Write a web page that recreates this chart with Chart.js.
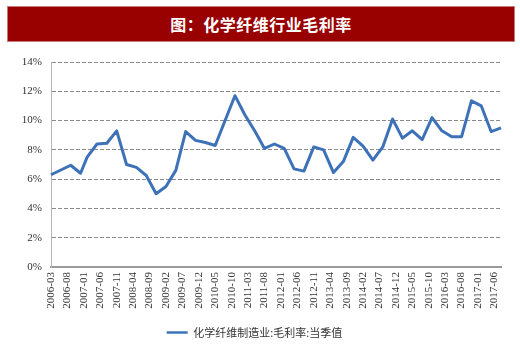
<!DOCTYPE html>
<html>
<head>
<meta charset="utf-8">
<script src="https://cdn.jsdelivr.net/npm/chart.js@4.4.1/dist/chart.umd.min.js"></script>
<style>
  html, body { margin: 0; padding: 0; background: #fff; }
  #wrap { position: relative; width: 520px; height: 348px; }
  #banner {
    position: absolute; left: 7px; top: 6px; width: 506px; height: 34px;
    background: #990000; border: 1px solid #c77a7a;
    color: #fff; font: bold 16px "Noto Sans CJK SC", sans-serif;
    text-align: center; line-height: 34px; letter-spacing: 0.5px;
  }
  canvas { position: absolute; left: 0; top: 0; }
</style>
</head>
<body>
<div id="wrap">
  <canvas id="c" width="520" height="348"></canvas>
  <div id="banner">图：化学纤维行业毛利率</div>
</div>
<script>
const seriesName = '化学纤维制造业:毛利率:当季值';
const pointDates = ['2006-03','2006-09','2006-12','2007-02','2007-05','2007-08','2007-11','2008-02','2008-05','2008-08','2008-11','2009-02','2009-05','2009-08','2009-11','2010-02','2010-05','2010-08','2010-11','2011-02','2011-05','2011-08','2011-11','2012-02','2012-05','2012-08','2012-11','2013-02','2013-05','2013-08','2013-11','2014-02','2014-05','2014-08','2014-11','2015-02','2015-05','2015-08','2015-11','2016-02','2016-05','2016-08','2016-11','2017-02','2017-05','2017-08'];
const marginValues = [6.3,6.95,6.4,7.5,8.4,8.45,9.3,7.0,6.8,6.25,5.0,5.5,6.6,9.25,8.65,8.5,8.3,10.0,11.7,10.4,9.3,8.1,8.4,8.1,6.7,6.55,8.2,8.0,6.45,7.2,8.85,8.25,7.3,8.2,10.1,8.8,9.3,8.7,10.2,9.3,8.9,8.9,11.35,11.0,9.25,9.5];
const tickLabels = ['2006-03','2006-08','2007-01','2007-06','2007-11','2008-04','2008-09','2009-02','2009-07','2009-12','2010-05','2010-10','2011-03','2011-08','2012-01','2012-06','2012-11','2013-04','2013-09','2014-02','2014-07','2014-12','2015-05','2015-10','2016-03','2016-08','2017-01','2017-06'];
const yTicks = [0,2,4,6,8,10,12,14];

// monthly category axis spanning the first to last date
const months = [];
{
  let [y, m] = pointDates[0].split('-').map(Number);
  const [ey, em] = pointDates[pointDates.length - 1].split('-').map(Number);
  while (y < ey || (y === ey && m <= em)) {
    months.push(y + '-' + String(m).padStart(2, '0'));
    m++; if (m > 12) { m = 1; y++; }
  }
}
const lookup = {};
pointDates.forEach((d, i) => lookup[d] = marginValues[i]);
const seriesData = months.map(d => (d in lookup ? lookup[d] : null));

const serif = '"Liberation Serif", "Times New Roman", serif';

new Chart(document.getElementById('c'), {
  type: 'line',
  data: {
    labels: months,
    datasets: [{
      label: seriesName,
      data: seriesData,
      borderColor: '#3d72b8',
      backgroundColor: '#3d72b8',
      borderWidth: 3,
      pointRadius: 0,
      pointHoverRadius: 0,
      tension: 0,
      spanGaps: true,
      borderJoinStyle: 'round'
    }]
  },
  options: {
    responsive: false,
    animation: false,
    layout: { padding: { top: 62, right: 19, left: 8, bottom: 0 } },
    plugins: {
      tooltip: { enabled: false },
      legend: {
        position: 'bottom',
        labels: {
          usePointStyle: true,
          pointStyle: 'line',
          pointStyleWidth: 21,
          boxHeight: 10,
          color: '#333',
          padding: 10,
          font: { family: '"Noto Sans CJK SC", sans-serif', size: 11 },
          generateLabels: chart => Chart.defaults.plugins.legend.labels.generateLabels(chart)
            .map(l => Object.assign(l, { lineWidth: 2.5 }))
        }
      }
    },
    scales: {
      x: {
        type: 'category',
        offset: false,
        afterFit: s => { s.height = 50; },
        grid: { display: false, drawTicks: false },
        border: { display: true, color: '#9a9a9a', width: 2 },
        ticks: {
          autoSkip: false,
          maxRotation: 90,
          minRotation: 90,
          padding: 5,
          color: '#333',
          font: { family: serif, size: 11 },
          callback: function (v, i) {
            const lab = this.getLabelForValue(v);
            return tickLabels.includes(lab) ? lab : '';
          }
        }
      },
      y: {
        min: 0,
        max: 14,
        afterFit: s => { s.width = 43; },
        afterBuildTicks: s => { s.ticks = yTicks.map(v => ({ value: v })); },
        grid: { color: '#8a8a8a', lineWidth: 1, drawTicks: false },
        border: { display: true, color: '#b5b5b5', width: 1, dash: [4, 2] },
        ticks: {
          padding: 9,
          color: '#333',
          font: { family: serif, size: 11 },
          callback: v => v + '%'
        }
      }
    }
  }
});
</script>
</body>
</html>
